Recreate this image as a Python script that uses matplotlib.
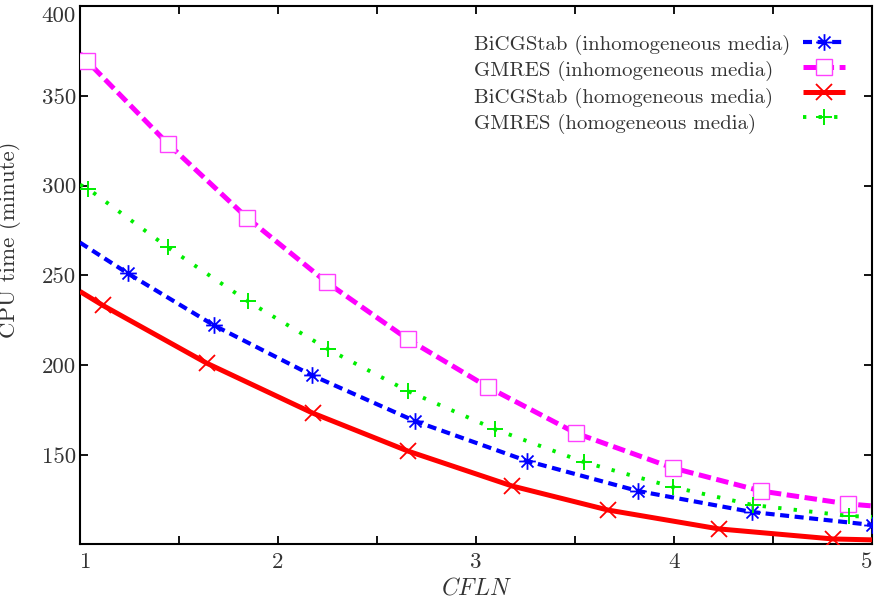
import matplotlib
matplotlib.use("Agg")
import matplotlib.pyplot as plt
from matplotlib.lines import Line2D
from matplotlib.ticker import FixedLocator, NullFormatter
from matplotlib.path import Path

plt.rcParams["font.family"] = ["cmr10", "DejaVu Serif"]
plt.rcParams["mathtext.fontset"] = "cm"
plt.rcParams["axes.formatter.use_mathtext"] = True
plt.rcParams["lines.scale_dashes"] = False

# CPU time (minute) versus CFLN
x_bicg_inh = [1.0, 1.242, 1.677, 2.172, 2.692, 3.258, 3.818, 4.394, 5.0]
y_bicg_inh = [268.3, 251.1, 222.2, 194.4, 168.9, 146.7, 130.0, 118.3, 111.1]

x_gmres_inh = [1.0, 1.035, 1.444, 1.843, 2.247, 2.657, 3.061, 3.505, 3.995, 4.439, 4.879, 5.0]
y_gmres_inh = [373.5, 369.4, 323.3, 282.2, 246.1, 214.4, 187.8, 162.2, 142.8, 130.0, 122.8, 121.7]

x_bicg_hom = [1.0, 1.116, 1.641, 2.177, 2.657, 3.182, 3.667, 4.227, 4.803, 5.0]
y_bicg_hom = [241.1, 233.3, 201.1, 173.3, 152.2, 132.8, 119.4, 108.9, 103.3, 102.8]

x_gmres_hom = [1.0, 1.040, 1.444, 1.848, 2.253, 2.657, 3.096, 3.545, 3.995, 4.399, 4.884, 5.0]
y_gmres_hom = [300.5, 298.3, 265.6, 235.6, 208.9, 185.6, 164.4, 146.1, 132.2, 122.2, 116.1, 115.6]

labels = [
    "BiCGStab (inhomogeneous media)",
    "GMRES (inhomogeneous media)",
    "BiCGStab (homogeneous media)",
    "GMRES (homogeneous media)",
]

x_ticks = [1, 2, 3, 4, 5]
x_minor = [1.5, 2.5, 3.5, 4.5]
y_ticks = [150, 200, 250, 300, 350, 400]

# 8-armed asterisk (plus overlaid with a cross)
ast_verts, ast_codes = [], []
for a, b in [((-1, 0), (1, 0)), ((0, -1), (0, 1)),
             ((-0.72, -0.72), (0.72, 0.72)), ((-0.72, 0.72), (0.72, -0.72))]:
    ast_verts += [a, b]
    ast_codes += [Path.MOVETO, Path.LINETO]
asterisk = Path(ast_verts, ast_codes)

fig = plt.figure(figsize=(8.74, 6.06), dpi=100)
ax = fig.add_axes([80 / 874, 62 / 606, 792 / 874, 538 / 606])

text_color = "#333333"

l1, = ax.plot(x_bicg_inh, y_bicg_inh, color="#0000ff", lw=3.0,
              dashes=(6.5, 4.0), dash_capstyle="butt",
              marker=asterisk, ms=12, mew=1.3, mec="#0000ff",
              markevery=list(range(1, len(x_bicg_inh))), zorder=3)
l2, = ax.plot(x_gmres_inh, y_gmres_inh, color="#ff00ff", lw=3.6,
              dashes=(9.0, 4.0), dash_capstyle="butt",
              marker="s", ms=11, mew=1.0, mec="#ff40ff", mfc="white",
              markevery=list(range(1, len(x_gmres_inh) - 1)), zorder=3)
l3, = ax.plot(x_bicg_hom, y_bicg_hom, color="#ff0000", lw=3.6,
              solid_capstyle="butt",
              marker="x", ms=12, mew=1.3, mec="#ff0000",
              markevery=list(range(1, len(x_bicg_hom) - 1)), zorder=3)
l4, = ax.plot(x_gmres_hom, y_gmres_hom, color="#00ee00", lw=2.8,
              dashes=(2.4, 8.8), dash_capstyle="butt",
              marker="+", ms=12, mew=1.4, mec="#00ee00",
              markevery=list(range(1, len(x_gmres_hom) - 1)), zorder=3)

ax.set_xlim(1, 5)
ax.set_ylim(100.5, 400)

ax.xaxis.set_major_locator(FixedLocator(x_ticks))
ax.xaxis.set_minor_locator(FixedLocator(x_minor))
ax.xaxis.set_minor_formatter(NullFormatter())
ax.set_xticklabels([str(v) for v in x_ticks])
ax.yaxis.set_major_locator(FixedLocator(y_ticks))
ax.set_yticklabels([str(v) for v in y_ticks])

ax.tick_params(which="both", direction="in", top=True, right=True,
               length=6, width=1.3, colors="black",
               labelcolor=text_color, labelsize=16.5)
ax.tick_params(axis="x", pad=6)
ax.tick_params(axis="y", pad=3)
# keep the end labels inside the canvas
ax.get_xticklabels()[0].set_horizontalalignment("left")
ax.get_xticklabels()[-1].set_horizontalalignment("right")
ax.get_yticklabels()[-1].set_verticalalignment("top")

for s in ax.spines.values():
    s.set_linewidth(1.5)

ax.set_xlabel(r"$CFLN$", fontsize=17, color=text_color, labelpad=4)
ax.set_ylabel("CPU time (minute)", fontsize=16.5, color=text_color)
ax.yaxis.set_label_coords(-0.074, (544 - 240) / 538)

# Legend: handle column on the right, label column left-aligned
handles = [l1, l2, l3, l4]
leg_y = 0.947
leg_h = ax.legend(handles, [" "] * 4, loc="upper left",
                  bbox_to_anchor=(0.913, leg_y), frameon=False,
                  fontsize=15, handlelength=2.0, handletextpad=0.0,
                  labelspacing=0.31, borderpad=0, borderaxespad=0,
                  numpoints=1, markerfirst=True)
ax.add_artist(leg_h)
blank = [Line2D([], [], linestyle="none") for _ in labels]
leg_t = ax.legend(blank, labels, loc="upper left",
                  bbox_to_anchor=(0.497, leg_y), frameon=False,
                  fontsize=15, handlelength=0, handletextpad=0,
                  labelspacing=0.31, borderpad=0, borderaxespad=0,
                  labelcolor=text_color)

fig.savefig("out.png", dpi=100)
